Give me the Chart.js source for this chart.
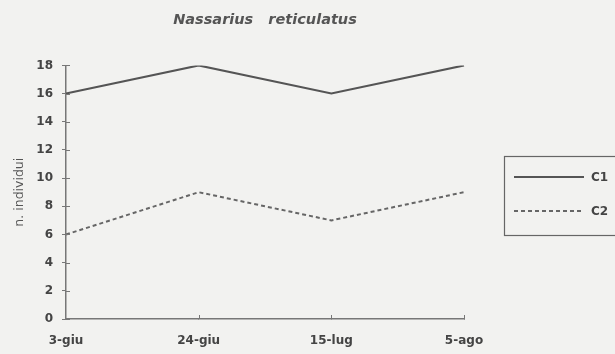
<!DOCTYPE html>
<html><head><meta charset="utf-8">
<script src="https://cdn.jsdelivr.net/npm/chart.js@4"></script>
<style>html,body{margin:0;padding:0;background:#f2f2f0;}#wrap{width:615px;height:354px;position:relative;}</style>
</head><body><div id="wrap"><canvas id="c" width="615" height="354"></canvas></div>
<script>
const categories = ["3-giu", "24-giu", "15-lug", "5-ago"];
const seriesC1 = [16, 18, 16, 18];
const seriesC2 = [6, 9, 7, 9];
const seriesNames = ["C1", "C2"];
const titleText = "Nassarius   reticulatus";
const yTitle = "n. individui";

const axisColor = "#777";
const textColor = "#444";
const FONT = "'DejaVu Sans', 'Liberation Sans', Arial, sans-serif";

const crossTicks = {
  id: "crossTicks",
  afterDatasetsDraw(chart) {
    const ctx = chart.ctx, x = chart.scales.x, y = chart.scales.y;
    ctx.save();
    ctx.strokeStyle = axisColor; ctx.lineWidth = 1;
    y.ticks.forEach(t => {
      const py = Math.round(y.getPixelForValue(t.value)) + 0.5;
      ctx.beginPath(); ctx.moveTo(x.left, py); ctx.lineTo(x.left + 4, py); ctx.stroke();
    });
    x.ticks.forEach((t, i) => {
      if (i === 0) return;
      const px = Math.round(x.getPixelForValue(i)) + 0.5;
      ctx.beginPath(); ctx.moveTo(px, y.bottom); ctx.lineTo(px, y.bottom - 4); ctx.stroke();
    });
    ctx.restore();
  }
};

const boxLegend = {
  id: "boxLegend",
  afterDraw(chart) {
    const ctx = chart.ctx;
    ctx.save();
    ctx.strokeStyle = "#666"; ctx.lineWidth = 1.2;
    ctx.strokeRect(504.5, 156.5, 130, 79);
    chart.data.datasets.forEach((ds, i) => {
      const yy = 177 + i * 34;
      ctx.strokeStyle = ds.borderColor; ctx.lineWidth = ds.borderWidth;
      ctx.setLineDash(ds.borderDash || []);
      ctx.beginPath(); ctx.moveTo(514, yy); ctx.lineTo(584, yy); ctx.stroke();
      ctx.setLineDash([]);
      ctx.fillStyle = textColor; ctx.font = "bold 12px " + FONT;
      ctx.textBaseline = "middle"; ctx.textAlign = "left";
      ctx.fillText(ds.label, 591, yy + 1);
    });
    ctx.restore();
  }
};

new Chart(document.getElementById("c"), {
  type: "line",
  data: {
    labels: categories,
    datasets: [
      { label: seriesNames[0], data: seriesC1, borderColor: "#555", borderWidth: 2, pointRadius: 0, tension: 0, fill: false },
      { label: seriesNames[1], data: seriesC2, borderColor: "#666", borderWidth: 2, borderDash: [4, 3], pointRadius: 0, tension: 0, fill: false }
    ]
  },
  options: {
    responsive: false, animation: false,
    layout: { padding: { left: 0, right: 151, top: 0, bottom: 0 } },
    plugins: {
      legend: { display: false },
      tooltip: { enabled: false },
      title: {
        display: true, text: titleText, fullSize: false, color: "#555",
        font: { family: FONT, size: 14.5, style: "italic", weight: "bold" },
        padding: { top: 12, bottom: 36 }
      }
    },
    scales: {
      x: {
        type: "category", offset: false,
        grid: { display: true, drawOnChartArea: false, drawTicks: true, tickLength: 0, color: axisColor },
        border: { display: true, color: axisColor, width: 1.5 },
        ticks: { color: textColor, padding: 15, maxRotation: 0, autoSkip: false,
          font: { family: FONT, size: 12, weight: "bold" } },
        afterFit(s) { s.height = 35; s.paddingLeft = 0; s.paddingRight = 0; }
      },
      y: {
        min: 0, max: 18,
        grid: { drawOnChartArea: false, drawTicks: true, tickLength: 4, color: axisColor },
        border: { display: true, color: axisColor, width: 1.5 },
        ticks: { stepSize: 2, color: textColor, padding: 9,
          font: { family: FONT, size: 12, weight: "bold" } },
        title: { display: true, text: yTitle, color: "#555", padding: { top: 12, bottom: 0 },
          font: { family: FONT, size: 12.5 } },
        afterFit(s) { s.width = 66; s.paddingTop = 0; s.paddingBottom = 0; }
      }
    }
  },
  plugins: [crossTicks, boxLegend]
});
</script></body></html>
